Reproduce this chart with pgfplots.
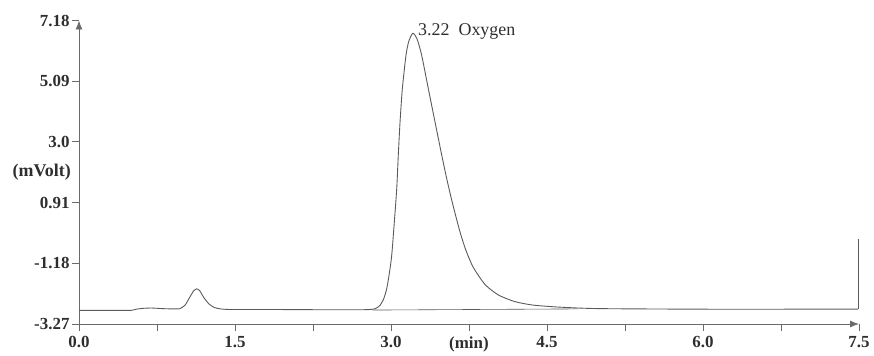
\documentclass[border=0pt]{standalone}
\usepackage{fontspec}
\setmainfont{Liberation Serif}
\usepackage{pgfplots}
\pgfplotsset{compat=1.18}
\usetikzlibrary{arrows.meta}
\definecolor{ln}{HTML}{5A5A5A}
\definecolor{ax}{HTML}{6A6A6A}
\definecolor{tx}{HTML}{2E2E2E}
\begin{document}
\begin{tikzpicture}
\begin{axis}[
  at={(79bp,32bp)}, anchor=south west,
  scale only axis, width=780bp, height=303.5bp,
  xmin=0, xmax=7.5, ymin=-3.27, ymax=7.18,
  axis lines=left,
  axis line style={ax, line width=0.9pt, -{Latex[length=9bp,width=7bp]}},
  clip=false,
  xtick={0,1.5,3.0,4.5,6.0,7.5},
  xticklabels={0.0,1.5,3.0,4.5,6.0,7.5},
  extra x ticks={3.75},
  extra x tick labels={(min)},
  minor xtick={0.75,2.25,5.25,6.75},
  ytick={-3.27,-1.18,0.91,3.0,5.09,7.18},
  yticklabels={-3.27,-1.18,0.91,3.0,5.09,7.18},
  tick align=outside,
  major tick length=7bp, minor tick length=7bp,
  tick style={ax, line width=0.8pt},
  every tick label/.append style={font=\fontsize{17}{17}\selectfont\bfseries, text=tx},
  xticklabel style={yshift=-2bp},
  yticklabel style={xshift=1bp},
]
\addplot[ln, line width=0.9pt, smooth, tension=0.4] coordinates {
(0,-2.80) (0.30,-2.80) (0.50,-2.80) (0.55,-2.76) (0.62,-2.73) (0.70,-2.72)
(0.80,-2.74) (0.90,-2.75) (0.97,-2.74) (1.02,-2.62) (1.06,-2.38) (1.10,-2.14)
(1.13,-2.06) (1.16,-2.12) (1.20,-2.36) (1.25,-2.58) (1.30,-2.70) (1.36,-2.75)
(1.45,-2.77) (1.80,-2.77) (2.40,-2.78) (2.70,-2.78) (2.80,-2.77) (2.85,-2.74)
(2.894,-2.63) (2.93,-2.40) (2.959,-2.05) (2.985,-1.50) (3.007,-0.90) (3.032,0.24)
(3.055,1.39) (3.070,2.54) (3.087,3.69) (3.109,4.83) (3.144,5.98) (3.17,6.45)
(3.209,6.74) (3.25,6.55) (3.295,5.98) (3.359,4.83) (3.423,3.69) (3.488,2.54)
(3.536,1.73) (3.584,0.99) (3.632,0.32) (3.670,-0.18) (3.721,-0.74) (3.791,-1.32)
(3.904,-1.91) (4.032,-2.27) (4.192,-2.50) (4.368,-2.62) (4.625,-2.69) (5.00,-2.74)
(6.00,-2.76) (7.00,-2.76) (7.49,-2.76)
};
\addplot[ln, line width=0.9pt] coordinates {(7.49,-2.76) (7.49,-0.35)};
\addplot[ln, line width=0.6pt] coordinates {(2.82,-2.79) (4.80,-2.75)};
\node[anchor=base west, inner sep=0, text=tx, font=\fontsize{18}{18}\selectfont]
  at (axis cs:3.26,6.66) {3.22~~Oxygen};
\node[anchor=east, inner sep=0, text=tx, font=\fontsize{18}{18}\selectfont\bfseries]
  at ([xshift=-8bp]axis cs:0,1.96) {(mVolt)};
\end{axis}
\pgfresetboundingbox
\path[use as bounding box] (0,0) rectangle (874bp,356bp);
\end{tikzpicture}
\end{document}
